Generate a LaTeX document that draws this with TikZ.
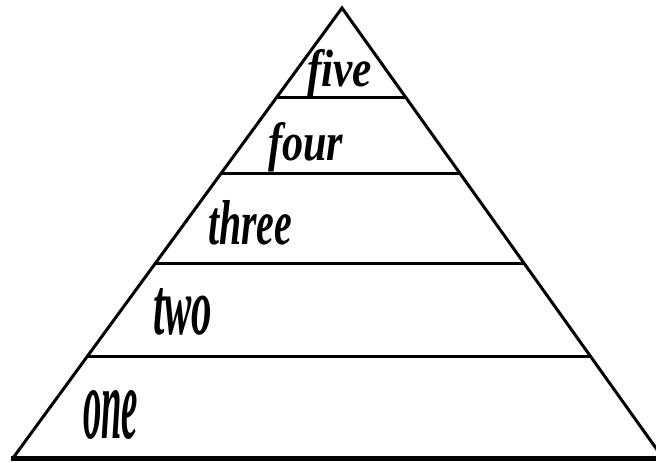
\documentclass[tikz,border=0pt]{standalone}
\usepackage{fontspec}
\usetikzlibrary{calc}
\newfontfamily\wordfont[Ligatures=NoCommon]{Liberation Serif}
\tikzset{
  side/.style={line width=3pt, line cap=round},
  level/.style={line width=3pt},
  baseline/.style={line width=5pt},
  word/.style={anchor=base west, inner sep=0pt, outer sep=0pt}
}
\newcommand{\pyrword}[3]{\resizebox{#1pt}{#2pt}{\wordfont\bfseries\itshape #3}}
\begin{document}
\begin{tikzpicture}[x=1pt,y=-1pt]
  \path[use as bounding box] (0,0) rectangle (656,463);
  \begin{scope}
    \clip (0,0) rectangle (656,463);
    \coordinate (apex) at (342,8);
    \coordinate (bl) at (13,458);
    \coordinate (br) at (663,458);
    \coordinate (b0) at (11,458);
    \coordinate (b1) at (656,458);
    \draw[side] (bl) -- (apex) -- (br);
    \draw[baseline] (b0) -- (b1);
    \foreach \yy/\nm in {98/a,174/b,264/c,356/d}{
      \pgfmathsetmacro{\tt}{(\yy-8)/450}
      \coordinate (L\nm) at ($(apex)!\tt!(bl)$);
      \coordinate (R\nm) at ($(apex)!\tt!(br)$);
      \draw[level] (L\nm) -- (R\nm);
    }
  \end{scope}
  \node[word] (five)  at (307,86)  {\pyrword{65}{37}{five}};
  \node[word] (four)  at (268,160) {\pyrword{75}{38}{four}};
  \node[word] (three) at (208,244) {\pyrword{84}{44}{three}};
  \node[word] (two)   at (153,334) {\pyrword{59}{46}{two}};
  \node[word] (one)   at (83,438)  {\pyrword{55}{48}{one}};
\end{tikzpicture}
\end{document}
